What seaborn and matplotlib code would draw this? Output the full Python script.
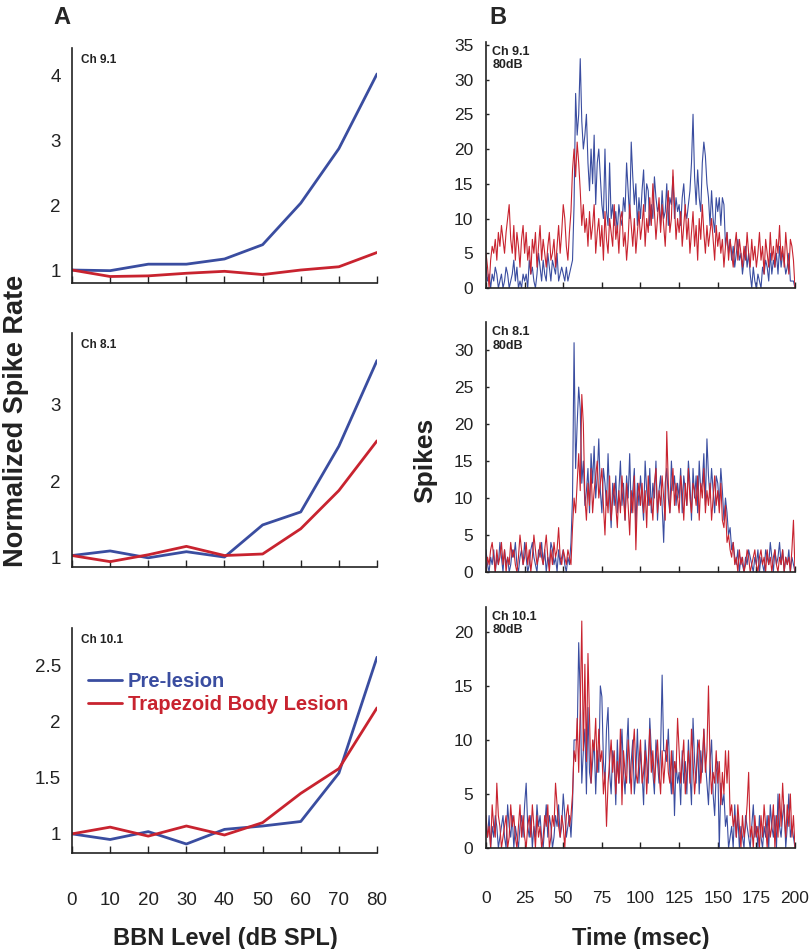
# -*- coding: utf-8 -*-
import numpy as np
import pandas as pd
import matplotlib
matplotlib.use("Agg")
import matplotlib.pyplot as plt
import seaborn as sns

# ---- panel A: normalized spike rate vs BBN level ----
levels = [0, 10, 20, 30, 40, 50, 60, 70, 80]
channels = ["Ch 9.1", "Ch 8.1", "Ch 10.1"]
conditions = ["Pre-lesion", "Trapezoid Body Lesion"]

ch9_pre = [1.0, 0.99, 1.09, 1.09, 1.17, 1.39, 2.03, 2.87, 4.02]
ch9_tb = [1.0, 0.90, 0.91, 0.95, 0.98, 0.93, 1.0, 1.05, 1.27]
ch8_pre = [1.03, 1.09, 1.0, 1.08, 1.01, 1.43, 1.60, 2.46, 3.58]
ch8_tb = [1.03, 0.95, 1.04, 1.15, 1.03, 1.05, 1.38, 1.88, 2.53]
ch10_pre = [1.0, 0.95, 1.02, 0.91, 1.04, 1.07, 1.11, 1.54, 2.57]
ch10_tb = [1.0, 1.06, 0.98, 1.07, 0.99, 1.10, 1.36, 1.58, 2.12]

# ---- panel B: PSTH at 80 dB, 1 ms bins, 0..200 ms ----
psth9_pre = [3,1,2,0,2,1,3,2,0,1, 2,0,1,3,2,0,1,2,4,1, 3,0,1,0,2,
             1,2,0,4,2,3,1,0,2,5, 3,1,4,2,1,5,3,1,4,3, 2,5,1,2,3,
             2,1,3,1,2,3,4,12,28,22, 25,33,24,20,22,25,18,14,20,15, 22,12,18,20,16,
             12,10,20,11,9,18,10,12,9,11, 8,12,10,9,13,11,18,14,10,21, 16,12,15,9,13,
             10,14,17,11,15,14,9,12,10,16, 13,11,12,9,14,10,11,15,9,13, 12,16,10,13,11,
             12,9,13,15,11,10,12,14,18,25, 16,12,17,13,11,18,21,19,15,13, 9,14,10,8,13,
             11,13,9,13,12,6,8,5,7,4, 6,3,5,7,4,5,2,4,6,3, 5,2,0,3,1,
             0,2,1,0,3,2,4,3,1,5, 2,4,3,5,2,6,3,5,4,2, 3,5,1,1,1,0]
psth9_tb = [5,3,0,4,6,5,7,4,8,6, 9,7,5,8,10,12,7,5,9,4, 8,6,3,7,9,
            5,8,4,6,2,7,5,8,3,6, 9,4,7,5,3,6,8,4,5,7, 3,6,9,5,8,
            12,10,6,4,8,11,17,20,16,21, 18,14,9,12,8,10,6,11,7,9, 12,5,8,10,6,
            9,4,11,7,5,10,8,6,12,7, 9,5,10,11,6,8,4,7,12,9, 6,10,5,8,11,
            7,9,12,6,10,8,13,9,15,11, 7,10,13,8,12,9,6,11,14,8, 10,17,12,7,10,
            8,11,6,9,12,7,10,5,8,11, 6,9,4,10,7,12,8,5,9,6, 8,10,7,4,9,
            6,8,5,7,3,6,8,4,7,5, 3,6,8,4,7,5,3,6,4,8, 5,3,7,4,6,
            3,5,8,4,6,2,7,5,3,8, 4,6,3,7,5,9,4,6,3,8, 5,2,7,6,4,0]
psth8_pre = [3,1,0,2,1,3,0,2,1,4, 2,0,3,1,2,0,1,3,2,4, 1,0,2,3,1,
             4,2,0,1,3,4,2,1,0,3, 2,4,1,3,0,2,1,4,3,1, 2,0,3,1,2,
             3,1,0,2,1,4,10,31,14,20, 25,22,12,15,9,11,14,8,16,12, 17,10,13,18,11,
             8,14,12,9,16,10,6,12,9,13, 8,11,15,9,12,7,13,10,16,8, 11,14,6,12,9,
             13,10,7,15,11,9,14,8,12,10, 15,7,11,13,9,4,12,14,10,8, 15,11,13,9,12,
             10,14,8,13,11,9,15,12,7,14, 10,13,8,15,11,12,16,9,18,13, 10,14,11,8,13,
             12,9,14,11,7,10,8,5,6,3, 4,2,1,3,0,2,1,0,2,1, 3,2,1,0,2,
             1,3,0,2,1,0,3,2,1,4, 2,0,3,1,2,4,1,3,0,2, 1,3,0,2,1,0]
psth8_tb = [0,2,1,3,4,2,0,3,1,2, 4,1,3,0,2,1,4,2,3,1, 0,2,5,3,1,
            2,4,1,3,0,2,5,3,1,2, 4,2,1,3,5,2,0,3,1,4, 2,3,6,2,1,
            3,2,1,3,2,1,6,10,8,12, 16,11,24,20,10,7,12,9,14,8, 11,13,15,10,12,
            14,9,5,11,8,13,7,10,12,9, 6,11,8,13,10,7,12,9,5,11, 8,13,3,10,12,
            9,12,8,11,6,13,9,10,7,12, 14,8,11,9,13,10,7,19,12,8, 11,14,9,12,10,
            8,13,11,7,12,9,14,10,8,12, 11,9,13,7,12,10,14,8,11,9, 12,7,10,13,9,
            11,8,12,7,6,9,4,5,3,2, 4,1,2,0,3,1,2,0,1,3, 2,0,1,2,3,
            1,0,2,3,1,2,0,3,1,2, 0,2,3,1,0,2,1,3,0,2, 1,2,0,3,7,0]
psth10_pre = [2,1,3,0,2,1,3,2,0,1, 2,3,1,0,4,2,1,3,0,2, 1,0,2,3,1,
              4,6,2,1,3,0,2,1,4,2, 3,1,0,2,4,1,3,2,0,1, 3,2,4,1,2,
              5,3,1,2,3,1,4,10,10,10, 19,14,6,9,11,5,13,7,6,8, 10,5,9,7,15,
              14,8,6,11,13,7,5,9,8,4, 10,6,8,11,7,5,9,12,6,8, 10,5,7,11,6,
              9,7,4,10,8,6,12,9,7,5, 10,8,6,9,16,9,9,8,11,7, 5,9,3,8,6,
              7,4,9,6,8,5,10,7,4,12, 8,6,10,5,9,7,11,8,6,4, 8,10,5,3,7,
              8,0,6,4,5,2,3,0,1,2, 0,4,1,3,0,2,1,0,3,2, 1,0,2,4,1,
              2,0,3,1,0,2,1,3,0,4, 2,1,3,0,5,2,1,3,4,0, 2,5,1,2,1,0]
psth10_tb = [3,1,2,0,4,2,1,6,3,2, 0,1,2,3,0,1,4,2,3,1, 0,2,4,1,3,
             1,0,2,3,1,4,2,0,3,1, 2,0,1,3,2,4,0,1,3,2, 6,4,2,1,3,
             2,0,3,4,2,3,5,9,8,12, 7,13,21,9,17,8,18,12,6,10, 9,12,7,11,8,
             9,5,7,2,6,8,10,7,9,5, 8,6,11,4,9,7,6,10,8,5, 9,11,7,6,8,
             10,6,7,9,5,8,11,7,9,6, 8,10,7,5,9,6,8,10,7,6, 9,5,8,7,12,
             9,6,8,10,5,7,9,6,11,8, 5,7,9,10,6,8,11,7,9,15, 8,5,7,6,9,
             6,8,4,7,5,9,6,9,3,4, 2,3,1,4,2,0,3,1,2,4, 7,1,2,0,3,
             1,2,0,3,1,4,2,0,3,1, 2,4,0,3,1,5,2,6,3,1, 4,2,5,1,3,0]

a_yticks = [[1, 2, 3, 4], [1, 2, 3], [1, 1.5, 2, 2.5]]
a_yticklabels = [["1", "2", "3", "4"], ["1", "2", "3"], ["1", "1.5", "2", "2.5"]]
b_yticks = [list(range(0, 40, 5)), list(range(0, 35, 5)), list(range(0, 25, 5))]
b_xticks = list(range(0, 225, 25))

if __name__ == '__main__':
    sns.set_style("ticks")
    plt.rcParams['font.family'] = ['Liberation Sans', 'DejaVu Sans']

    blue = "#3A4DA0"
    red = "#C8232F"
    pal = {conditions[0]: blue, conditions[1]: red}

    fig = plt.figure(figsize=(8.12, 9.49), dpi=100)
    W, H = 812.0, 949.0

    def add_ax(x0, x1, y0, y1):
        return fig.add_axes([x0 / W, 1 - y1 / H, (x1 - x0) / W, (y1 - y0) / H])

    a_boxes = [(72, 377, 48, 283), (72, 377, 333, 567), (72, 377, 628, 853)]
    b_boxes = [(486, 795, 42, 288), (486, 795, 322, 572), (486, 795, 607, 848)]
    a_ylims = [(0.8, 4.42), (0.88, 3.94), (0.83, 2.83)]
    b_ylims = [(0, 35.4), (0, 33.8), (0, 22.3)]

    a_data = [(ch9_pre, ch9_tb), (ch8_pre, ch8_tb), (ch10_pre, ch10_tb)]
    b_data = [(psth9_pre, psth9_tb), (psth8_pre, psth8_tb), (psth10_pre, psth10_tb)]

    spine_col = "#222222"

    for i in range(3):
        # left column
        ax = add_ax(*a_boxes[i])
        pre, tb = a_data[i]
        df = pd.DataFrame({"level": levels * 2,
                           "rate": pre + tb,
                           "cond": [conditions[0]] * len(levels) + [conditions[1]] * len(levels)})
        sns.lineplot(data=df, x="level", y="rate", hue="cond", palette=pal,
                     linewidth=2.0, ax=ax, legend=False)
        ax.set_xlim(0, 80)
        ax.set_ylim(*a_ylims[i])
        ax.set_xticks(levels)
        ax.set_yticks(a_yticks[i])
        ax.set_yticklabels(a_yticklabels[i])
        ax.set_xlabel("")
        ax.set_ylabel("")
        ax.tick_params(axis="x", direction="in", length=5, width=1, colors=spine_col,
                       labelsize=13.5, pad=28, labelcolor="#222222")
        ax.tick_params(axis="y", length=0, labelsize=13.5, pad=8, labelcolor="#222222")
        if i < 2:
            ax.set_xticklabels([])
        sns.despine(ax=ax)
        for s in ["left", "bottom"]:
            ax.spines[s].set_color(spine_col)
            ax.spines[s].set_linewidth(1.2)
        ax.text(0.028, 0.975, channels[i], transform=ax.transAxes, fontsize=8.5,
                fontweight="bold", va="top", ha="left", color="#222222")
        if i == 2:
            leg = ax.legend(handles=ax.lines[:2], labels=conditions, loc="upper left",
                            bbox_to_anchor=(0.025, 0.84), frameon=False, fontsize=14.5,
                            handlelength=1.7, handletextpad=0.3, labelspacing=0.22,
                            borderaxespad=0)
            for txt, c in zip(leg.get_texts(), [blue, red]):
                txt.set_color(c)
                txt.set_fontweight("bold")

        # right column
        bx = add_ax(*b_boxes[i])
        pre, tb = b_data[i]
        dfb = pd.DataFrame({"t": list(range(len(pre))) + list(range(len(tb))),
                            "spikes": pre + tb,
                            "cond": [conditions[0]] * len(pre) + [conditions[1]] * len(tb)})
        sns.lineplot(data=dfb, x="t", y="spikes", hue="cond", palette=pal,
                     linewidth=0.8, ax=bx, legend=False)
        bx.set_xlim(0, 200)
        bx.set_ylim(*b_ylims[i])
        bx.set_xticks(b_xticks)
        bx.set_yticks(b_yticks[i])
        bx.set_xlabel("")
        bx.set_ylabel("")
        bx.tick_params(axis="x", direction="in", length=4, width=1, colors=spine_col,
                       labelsize=12.5, pad=31, labelcolor="#222222")
        bx.tick_params(axis="y", direction="in", length=2, width=1, colors=spine_col,
                       labelsize=12.5, pad=9, labelcolor="#222222")
        if i < 2:
            bx.set_xticklabels([])
        sns.despine(ax=bx)
        for s in ["left", "bottom"]:
            bx.spines[s].set_color(spine_col)
            bx.spines[s].set_linewidth(1.2)
        bx.text(0.02, 0.985, channels[i] + "\n80dB", transform=bx.transAxes, fontsize=9,
                fontweight="bold", va="top", ha="left", color="#222222", linespacing=1.2)

    fig.text(62 / W, 1 - 18 / H, "A", fontsize=17, fontweight="bold", ha="center", va="center")
    fig.text(498 / W, 1 - 18 / H, "B", fontsize=17, fontweight="bold", ha="center", va="center")
    fig.text(16 / W, 1 - 421 / H, "Normalized Spike Rate", rotation=90, fontsize=19.5,
             fontweight="bold", ha="center", va="center", color="#222222")
    fig.text(425 / W, 1 - 460 / H, "Spikes", rotation=90, fontsize=19,
             fontweight="bold", ha="center", va="center", color="#222222")
    fig.text(225 / W, 1 - 938 / H, "BBN Level (dB SPL)", fontsize=17,
             fontweight="bold", ha="center", va="center", color="#222222")
    fig.text(641 / W, 1 - 938 / H, "Time (msec)", fontsize=17,
             fontweight="bold", ha="center", va="center", color="#222222")

    fig.savefig("out.png", dpi=100)
    plt.close(fig)
